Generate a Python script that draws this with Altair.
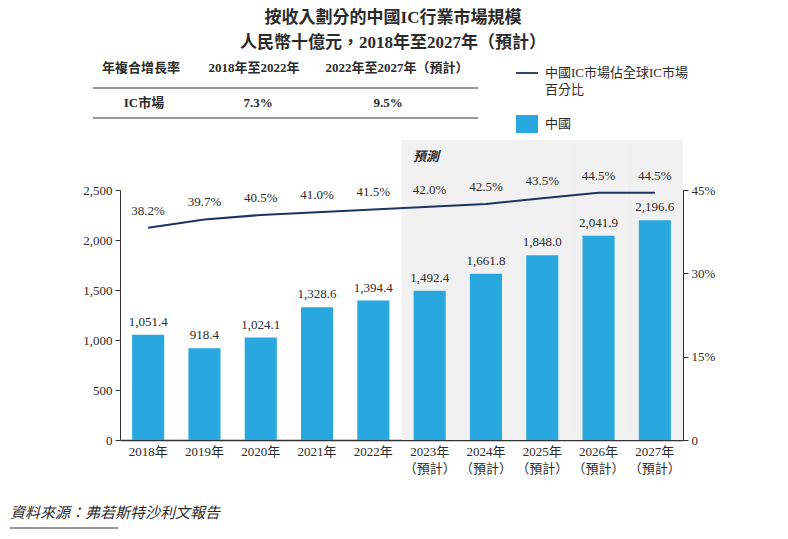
import altair as alt
import pandas as pd

# ---- data ----
years = [2018, 2019, 2020, 2021, 2022, 2023, 2024, 2025, 2026, 2027]
market = [1051.4, 918.4, 1024.1, 1328.6, 1394.4, 1492.4, 1661.8, 1848.0, 2041.9, 2196.6]
share = [38.2, 39.7, 40.5, 41.0, 41.5, 42.0, 42.5, 43.5, 44.5, 44.5]
forecast_years = [2023, 2024, 2025, 2026, 2027]
left_ticks = [0, 500, 1000, 1500, 2000, 2500]
right_ticks = [0, 15, 30, 45]

title_lines = ["按收入劃分的中國IC行業市場規模", "人民幣十億元，2018年至2027年（預計）"]
table_header = ["年複合增長率", "2018年至2022年", "2022年至2027年（預計）"]
table_row = ["IC市場", "7.3%", "9.5%"]
legend_line = ["中國IC市場佔全球IC市場", "百分比"]
legend_bar = "中國"
forecast_label = "預測"
source_text = "資料來源：弗若斯特沙利文報告"

FONT = "Liberation Serif, Noto Sans CJK TC"
BLUE = "#29a7df"
NAVY = "#1b355e"
TXT = "#2b2b2b"

df = pd.DataFrame({"year": years, "market": market, "share": share})
shade_df = pd.DataFrame({"year": forecast_years})

xscale = alt.Scale(domain=years, paddingInner=0, paddingOuter=0)
xaxis = alt.Axis(
    title=None,
    labelExpr="datum.value >= 2023 ? [datum.value + '年', '（預計）'] : datum.value + '年'",
    ticks=False, domainColor="#333", domainWidth=1.5, labelFont=FONT,
    labelFontSize=13, labelColor=TXT, labelPadding=5, labelAngle=0,
    labelLineHeight=17,
)
X = alt.X("year:O", scale=xscale, axis=xaxis)

shade = alt.Chart(shade_df).mark_bar(
    color="#f1f1f1", width=alt.RelativeBandSize(1)
).encode(x=X, y=alt.value(-50), y2=alt.value(250))

yleft = alt.Y(
    "market:Q",
    scale=alt.Scale(domain=[0, 2500], nice=False),
    axis=alt.Axis(title=None, values=left_ticks, format=",.0f", orient="left",
                  grid=False, tickSize=5, domainColor="#333", tickColor="#333",
                  labelFont=FONT, labelFontSize=13, labelColor=TXT,
                  labelPadding=3),
)
bars = alt.Chart(df).mark_bar(color=BLUE, width=alt.RelativeBandSize(0.57)).encode(
    x=X, y=yleft
)
bar_labels = alt.Chart(df).mark_text(
    baseline="bottom", dy=-6, font=FONT, fontSize=13, color=TXT
).encode(x=X, y=yleft, text=alt.Text("market:Q", format=",.1f"))
left = alt.layer(bars, bar_labels)

yright = alt.Y(
    "share:Q",
    scale=alt.Scale(domain=[0, 45], nice=False),
    axis=alt.Axis(title=None, values=right_ticks, orient="right", grid=False,
                  labelExpr="datum.value == 0 ? '0' : datum.value + '%'",
                  tickSize=5, domainColor="#333", tickColor="#333",
                  labelFont=FONT, labelFontSize=13, labelColor=TXT,
                  labelPadding=3),
)
line = alt.Chart(df).mark_line(color=NAVY, strokeWidth=2).encode(x=X, y=yright)
line_labels = alt.Chart(df).transform_calculate(
    lab="format(datum.share, '.1f') + '%'"
).mark_text(
    baseline="bottom", dy=-10, font=FONT, fontSize=13, color=TXT
).encode(x=X, y=yright, text="lab:N")
right = alt.layer(line, line_labels)


def txt(s, x, y, size=13, weight="normal", align="center", style="normal"):
    return alt.Chart(alt.Data(values=[{}])).mark_text(
        text=s, font=FONT, fontSize=size, fontWeight=weight, align=align,
        baseline="middle", fontStyle=style, color=TXT,
    ).encode(x=alt.value(x), y=alt.value(y))


def hrule(x1, x2, y, w=1.2, color="#333"):
    return alt.Chart(alt.Data(values=[{}])).mark_rule(
        color=color, strokeWidth=w
    ).encode(x=alt.value(x1), x2=alt.value(x2), y=alt.value(y))


deco = [
    txt(title_lines[0], 273, -172, size=17, weight="bold"),
    txt(title_lines[1], 273, -147, size=17, weight="bold"),
    txt(table_header[0], 21, -122, weight="bold"),
    txt(table_header[1], 134, -122, weight="bold"),
    txt(table_header[2], 277, -122, weight="bold"),
    hrule(-27, 358, -102),
    txt(table_row[0], 24, -87, weight="bold"),
    txt(table_row[1], 138, -87, weight="bold"),
    txt(table_row[2], 268, -87, weight="bold"),
    hrule(-27, 358, -72),
    hrule(396, 418, -117, w=1.8, color=NAVY),
    txt(legend_line[0], 425, -117, align="left"),
    txt(legend_line[1], 425, -100, align="left"),
    alt.Chart(alt.Data(values=[{}])).mark_rect(color=BLUE).encode(
        x=alt.value(396), x2=alt.value(418), y=alt.value(-75), y2=alt.value(-57)
    ),
    txt(legend_bar, 425, -66, align="left"),
    txt(forecast_label, 293, -33, weight="bold", align="left", style="italic"),
    txt(source_text, -110, 323, size=15, align="left", style="italic"),
    hrule(-110, -2, 338, w=1),
]

chart = alt.layer(shade, left, right, *deco).resolve_scale(y="independent").properties(
    width=563, height=250,
    padding={"left": 112, "top": 182, "right": 88, "bottom": 90},
    autosize="none",
).configure_view(stroke=None)

chart.save("out.html", embed_options={"renderer": "svg", "actions": False})
